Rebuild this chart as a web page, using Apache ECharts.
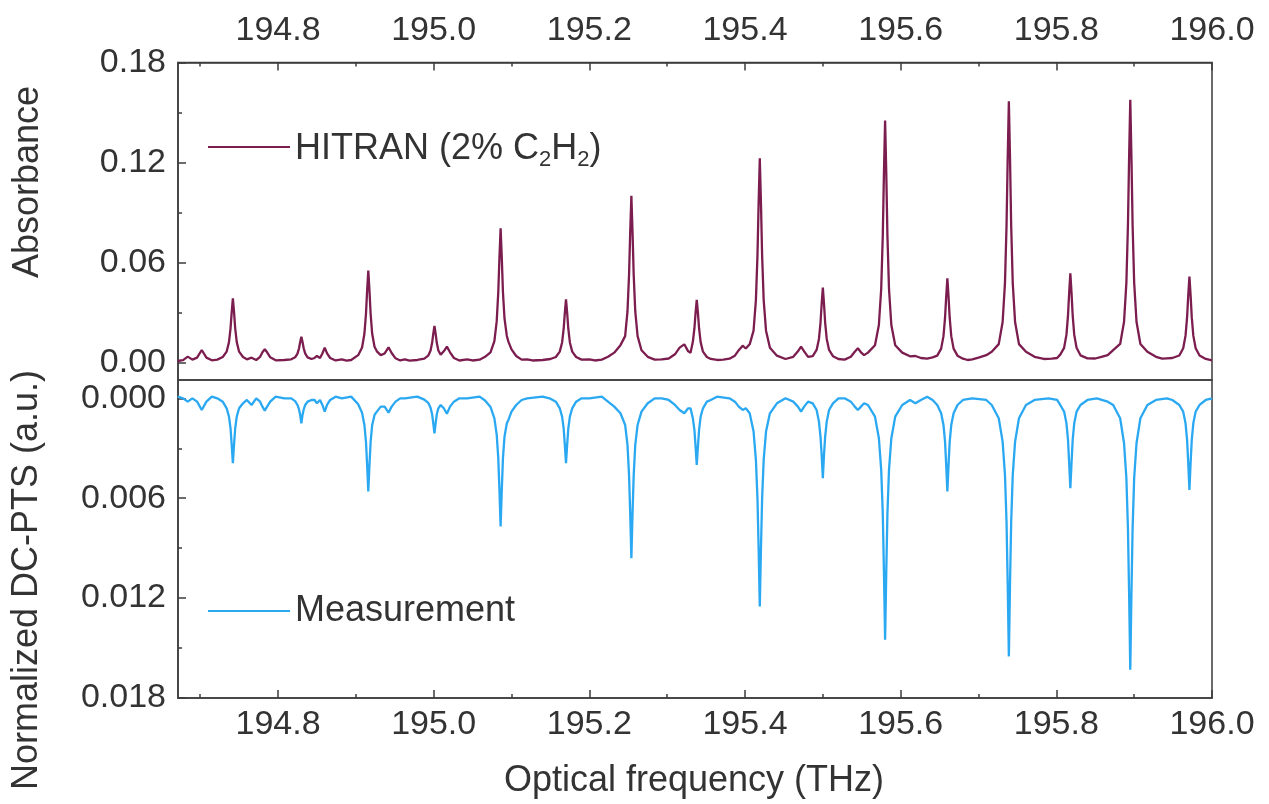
<!DOCTYPE html>
<html>
<head>
<meta charset="utf-8">
<script src="https://cdn.jsdelivr.net/npm/echarts@6/dist/echarts.min.js"></script>
<style>
html,body{margin:0;padding:0;background:#fff;}
#chart{width:1269px;height:804px;}
</style>
</head>
<body>
<div id="chart"></div>
<script>
// ---- data ----
const freqTicks = [194.8, 195.0, 195.2, 195.4, 195.6, 195.8, 196.0];
const freqMinorTicks = [194.7, 194.9, 195.1, 195.3, 195.5, 195.7, 195.9];
const absTicks = [0, 0.06, 0.12, 0.18];
const absMinorTicks = [0.03, 0.09, 0.15];
const ptsTicks = [0, 0.006, 0.012, 0.018];
const ptsMinorTicks = [0.003, 0.009, 0.015];

// HITRAN absorbance: [frequency THz, absorbance]
const hitran = [
[194.671,0.001],[194.678,0.0015],[194.684,0.0036],[194.690,0.0018],[194.696,0.003],[194.702,0.0076],[194.708,0.003],[194.715,0.0014],[194.722,0.0018],
[194.729,0.0034],[194.734,0.0066],[194.737,0.0123],[194.739,0.0206],[194.7405,0.0303],[194.742,0.0386],[194.7435,0.0303],[194.745,0.0206],[194.747,0.0123],[194.750,0.0066],[194.755,0.0034],
[194.760,0.002],[194.766,0.003],[194.772,0.0016],[194.777,0.0035],[194.780,0.0062],[194.783,0.008],[194.786,0.0062],[194.790,0.0032],[194.797,0.0014],[194.808,0.0016],
[194.817,0.002],[194.822,0.0032],[194.825,0.0054],[194.827,0.0086],[194.8285,0.0124],[194.830,0.0156],[194.8315,0.0124],[194.833,0.0086],[194.835,0.0054],[194.838,0.0032],[194.843,0.0022],
[194.847,0.0028],[194.850,0.004],[194.854,0.0028],[194.857,0.0055],[194.860,0.009],[194.863,0.0056],[194.867,0.0028],[194.874,0.0013],[194.882,0.002],[194.888,0.0012],[194.894,0.0016],
[194.903,0.0045],[194.908,0.0091],[194.911,0.0173],[194.913,0.0292],[194.9145,0.0433],[194.916,0.0552],[194.9175,0.0433],[194.919,0.0292],[194.921,0.0173],[194.924,0.0095],[194.927,0.0068],
[194.932,0.0045],[194.937,0.0055],[194.942,0.0092],[194.946,0.0058],[194.951,0.0026],[194.957,0.0013],[194.963,0.002],[194.969,0.0012],[194.979,0.0016],
[194.988,0.0024],[194.993,0.0042],[194.996,0.0073],[194.998,0.0119],[194.9995,0.0174],[195.001,0.022],[195.0025,0.0174],[195.004,0.0119],[195.006,0.0073],[195.009,0.0048],
[195.013,0.0068],[195.017,0.0096],[195.021,0.0062],[195.026,0.0028],[195.033,0.0013],[195.043,0.002],[195.050,0.0013],[195.059,0.0018],
[195.066,0.0035],[195.073,0.0062],[195.078,0.0129],[195.081,0.0249],[195.083,0.0424],[195.0845,0.0631],[195.086,0.0806],[195.0875,0.0631],[195.089,0.0424],[195.091,0.0265],[195.094,0.016],[195.096,0.0126],
[195.100,0.008],[195.106,0.004],[195.113,0.0018],[195.120,0.002],[195.127,0.0013],[195.140,0.0016],
[195.150,0.0022],[195.157,0.0034],[195.162,0.0066],[195.165,0.0121],[195.167,0.0202],[195.1685,0.0299],[195.170,0.038],[195.1715,0.0299],[195.173,0.0202],[195.175,0.0121],[195.178,0.0066],[195.183,0.0034],
[195.190,0.0018],[195.200,0.002],[195.207,0.0013],[195.216,0.0018],
[195.224,0.0035],[195.232,0.006],[195.240,0.0105],[195.246,0.0159],[195.249,0.0307],[195.251,0.0525],[195.2525,0.0782],[195.254,0.100],[195.2555,0.0782],[195.257,0.0525],[195.259,0.0307],[195.262,0.0159],[195.267,0.0074],
[195.275,0.0035],[195.284,0.0018],[195.293,0.002],[195.302,0.0025],[195.310,0.005],[195.316,0.009],[195.322,0.011],
[195.327,0.0068],[195.330,0.006],[195.333,0.0125],[195.335,0.0205],[195.3365,0.030],[195.338,0.0376],[195.3395,0.030],[195.341,0.0205],[195.343,0.0123],[195.346,0.0066],[195.351,0.0034],
[195.356,0.0022],[195.364,0.0016],[195.372,0.0018],[195.380,0.0024],[195.387,0.0042],[195.392,0.0075],[195.397,0.0102],
[195.401,0.0085],[195.406,0.011],[195.411,0.0192],[195.414,0.0375],[195.416,0.0642],[195.4175,0.0958],[195.419,0.1226],[195.4205,0.0958],[195.422,0.0642],[195.424,0.0375],[195.427,0.0192],[195.432,0.0089],
[195.441,0.0042],[195.452,0.0022],[195.462,0.0035],[195.468,0.0068],[195.472,0.0096],[195.476,0.0068],
[195.481,0.0035],[195.487,0.0039],[195.492,0.0076],[195.495,0.0142],[195.497,0.0239],[195.4985,0.0353],[195.500,0.045],[195.5015,0.0353],[195.503,0.0239],[195.505,0.0142],[195.508,0.0076],[195.513,0.0039],
[195.520,0.0022],[195.528,0.0018],[195.536,0.0035],[195.541,0.0065],[195.545,0.0086],
[195.549,0.0062],[195.553,0.0045],[195.558,0.006],[195.567,0.0104],[195.572,0.0226],[195.575,0.0443],[195.577,0.076],[195.5785,0.1135],[195.580,0.1452],[195.5815,0.1135],[195.583,0.076],[195.585,0.0443],[195.588,0.0226],[195.593,0.0104],
[195.602,0.006],[195.612,0.0038],[195.619,0.004],[195.626,0.0028],[195.634,0.0024],
[195.641,0.0032],[195.647,0.0042],[195.652,0.0084],[195.655,0.0159],[195.657,0.0268],[195.6585,0.0397],[195.660,0.0506],[195.6615,0.0397],[195.663,0.0268],[195.665,0.0159],[195.668,0.0084],[195.673,0.0042],
[195.680,0.0024],[195.686,0.0016],[195.692,0.002],[195.700,0.003],[195.710,0.0045],
[195.717,0.0065],[195.726,0.0111],[195.731,0.0244],[195.734,0.0477],[195.736,0.082],[195.7375,0.1224],[195.739,0.1567],[195.7405,0.1224],[195.742,0.082],[195.744,0.0477],[195.747,0.0244],[195.752,0.0111],
[195.761,0.0065],[195.772,0.0035],[195.784,0.0022],[195.794,0.0024],[195.801,0.0028],
[195.805,0.0048],[195.810,0.0089],[195.813,0.0168],[195.815,0.0284],[195.8165,0.042],[195.818,0.0536],[195.8195,0.042],[195.821,0.0284],[195.823,0.0168],[195.826,0.0089],[195.831,0.0044],
[195.840,0.0026],[195.850,0.0025],[195.858,0.0035],[195.866,0.0045],[195.873,0.0075],
[195.882,0.0112],[195.887,0.0245],[195.890,0.048],[195.892,0.0824],[195.8935,0.1231],[195.895,0.1576],[195.8965,0.1231],[195.898,0.0824],[195.900,0.048],[195.903,0.0245],[195.908,0.0112],
[195.917,0.0065],[195.928,0.0035],[195.936,0.0024],[195.942,0.0026],[195.949,0.0028],
[195.958,0.0043],[195.963,0.0086],[195.966,0.0162],[195.968,0.0273],[195.9695,0.0405],[195.971,0.0516],[195.9725,0.0405],[195.974,0.0273],[195.976,0.0162],[195.979,0.0086],[195.984,0.0043],
[195.992,0.0022],[196.000,0.0014]
];

// Measurement (normalized DC-PTS, plotted downward): [frequency THz, value a.u.]
const measurement = [
[194.671,-0.0001],[194.678,0.0],[194.684,0.0002],[194.690,0.0],[194.696,0.0002],[194.702,0.0007],[194.708,0.0002],[194.715,-0.0001],[194.722,0.0],
[194.729,0.0002],[194.734,0.0006],[194.737,0.0011],[194.739,0.0018],[194.7405,0.0028],[194.742,0.0039],[194.7435,0.0028],[194.745,0.0018],[194.747,0.0011],[194.750,0.0006],[194.755,0.0003],
[194.760,0.0001],[194.766,0.0004],[194.772,0.0],[194.777,0.0002],[194.780,0.0005],[194.783,0.00074],[194.786,0.0005],[194.790,0.0002],[194.797,-0.0001],[194.808,0.0],
[194.817,0.0],[194.822,0.00017],[194.825,0.0004],[194.827,0.00067],[194.8285,0.001],[194.830,0.0015],[194.8315,0.001],[194.833,0.00067],[194.835,0.0004],[194.838,0.0002],[194.843,0.0001],
[194.847,0.0001],[194.850,0.0003],[194.854,0.0001],[194.857,0.0004],[194.860,0.0008],[194.863,0.0004],[194.867,0.0001],[194.874,-0.0001],[194.882,0.0],[194.894,-0.0001],
[194.903,0.00036],[194.908,0.00087],[194.911,0.0016],[194.913,0.0026],[194.9145,0.004],[194.916,0.0056],[194.9175,0.004],[194.919,0.0026],[194.921,0.0016],[194.924,0.001],[194.927,0.0008],
[194.932,0.0005],[194.937,0.0005],[194.942,0.00086],[194.946,0.0005],[194.951,0.0002],[194.957,0.0],[194.963,0.0],[194.979,-0.0001],
[194.988,0.00008],[194.993,0.00027],[194.996,0.00056],[194.998,0.00096],[194.9995,0.0015],[195.001,0.0021],[195.0025,0.0015],[195.004,0.00096],[195.006,0.0006],[195.009,0.0004],
[195.013,0.0006],[195.017,0.00093],[195.021,0.0005],[195.026,0.0002],[195.033,0.0],[195.043,0.0],[195.059,-0.0001],
[195.066,0.00013],[195.073,0.00052],[195.078,0.0012],[195.081,0.0022],[195.083,0.0036],[195.0845,0.0055],[195.086,0.0077],[195.0875,0.0055],[195.089,0.0036],[195.091,0.0023],[195.094,0.0015],[195.096,0.0013],
[195.100,0.0008],[195.106,0.0004],[195.113,0.0001],[195.120,0.0],[195.140,-0.0001],
[195.150,0.00002],[195.157,0.0002],[195.162,0.0006],[195.165,0.0011],[195.167,0.0018],[195.1685,0.0028],[195.170,0.0039],[195.1715,0.0028],[195.173,0.0018],[195.175,0.0011],[195.178,0.0006],[195.183,0.0002],
[195.190,0.0],[195.200,0.0],[195.216,-0.0001],
[195.224,0.0002],[195.232,0.0005],[195.240,0.0009],[195.246,0.0016],[195.249,0.0028],[195.251,0.0046],[195.2525,0.0069],[195.254,0.0096],[195.2555,0.0069],[195.257,0.0046],[195.259,0.0028],[195.262,0.0016],[195.267,0.0008],
[195.275,0.0003],[195.284,0.0],[195.293,0.0],[195.302,0.0001],[195.310,0.0004],[195.316,0.0007],[195.322,0.0009],
[195.327,0.0006],[195.330,0.0006],[195.333,0.0012],[195.335,0.0019],[195.3365,0.0029],[195.338,0.004],[195.3395,0.0029],[195.341,0.0019],[195.343,0.0011],[195.346,0.0006],[195.351,0.0002],
[195.356,0.0001],[195.364,-0.0001],[195.380,0.0],[195.387,0.0002],[195.392,0.0005],[195.397,0.0007],
[195.401,0.0006],[195.406,0.0009],[195.411,0.002],[195.414,0.0037],[195.416,0.006],[195.4175,0.009],[195.419,0.0125],[195.4205,0.009],[195.422,0.006],[195.424,0.0037],[195.427,0.002],[195.432,0.0009],
[195.441,0.0003],[195.452,0.0],[195.462,0.0002],[195.468,0.0005],[195.472,0.0008],[195.476,0.0005],
[195.481,0.0002],[195.487,0.0003],[195.492,0.0007],[195.495,0.0014],[195.497,0.0023],[195.4985,0.0034],[195.500,0.0048],[195.5015,0.0034],[195.503,0.0023],[195.505,0.0014],[195.508,0.0007],[195.513,0.0003],
[195.520,0.0],[195.528,0.0],[195.536,0.0002],[195.541,0.0005],[195.545,0.0007],
[195.549,0.0005],[195.553,0.0003],[195.558,0.0004],[195.567,0.0011],[195.572,0.0024],[195.575,0.0043],[195.577,0.0069],[195.5785,0.0104],[195.580,0.0145],[195.5815,0.0104],[195.583,0.0069],[195.585,0.0043],[195.588,0.0024],[195.593,0.0011],
[195.602,0.0004],[195.612,0.0001],[195.619,0.0003],[195.626,0.0001],[195.634,-0.0001],
[195.641,0.0001],[195.647,0.0004],[195.652,0.0009],[195.655,0.0016],[195.657,0.0026],[195.6585,0.004],[195.660,0.0056],[195.6615,0.004],[195.663,0.0026],[195.665,0.0016],[195.668,0.0009],[195.673,0.0004],
[195.680,0.0001],[195.692,0.0],[195.710,0.0001],
[195.717,0.0004],[195.726,0.0012],[195.731,0.0026],[195.734,0.0046],[195.736,0.0074],[195.7375,0.0111],[195.739,0.0155],[195.7405,0.0111],[195.742,0.0074],[195.744,0.0046],[195.747,0.0026],[195.752,0.0012],
[195.761,0.0004],[195.772,0.0001],[195.790,0.0],[195.801,0.0001],
[195.805,0.0004],[195.810,0.0008],[195.813,0.0015],[195.815,0.0025],[195.8165,0.0039],[195.818,0.0054],[195.8195,0.0039],[195.821,0.0025],[195.823,0.0015],[195.826,0.0008],[195.831,0.0004],
[195.840,0.0001],[195.852,0.0],[195.866,0.0002],[195.873,0.0004],
[195.882,0.0012],[195.887,0.0027],[195.890,0.0048],[195.892,0.0078],[195.8935,0.0117],[195.895,0.0163],[195.8965,0.0117],[195.898,0.0078],[195.900,0.0048],[195.903,0.0027],[195.908,0.0012],
[195.917,0.0004],[195.928,0.0001],[195.942,0.0],[195.949,0.0001],
[195.958,0.0004],[195.963,0.0008],[195.966,0.0015],[195.968,0.0025],[195.9695,0.0039],[195.971,0.0055],[195.9725,0.0039],[195.974,0.0025],[195.976,0.0015],[195.979,0.0008],[195.984,0.0004],
[195.992,0.0001],[196.000,0.0]
];

// ---- chart ----
const FONT = "'Liberation Sans', Arial, Helvetica, sans-serif";
const TXT = '#333333';
const AX = '#3c3c3c';
const tickFont = 34;
const titleFont = 36;
const HIT_COLOR = '#7b1d4e';
const MEAS_COLOR = '#2aa8f2';

const chart = echarts.init(document.getElementById('chart'), null, {renderer: 'canvas'});

function xAxisMajor(grid, pos, margin) {
  return {
    type: 'value', gridIndex: grid, position: pos, min: 194.6715, max: 196.0,
    axisLine: {show: true, onZero: false, lineStyle: {color: AX, width: 1.5}},
    axisTick: {show: true, inside: true, length: 8, customValues: freqTicks, lineStyle: {color: AX, width: 1.5}},
    axisLabel: {show: true, customValues: freqTicks, margin: margin, fontSize: tickFont, fontFamily: FONT, color: TXT,
                formatter: v => v.toFixed(1)},
    splitLine: {show: false}
  };
}
function xAxisMinor(grid, pos) {
  return {
    type: 'value', gridIndex: grid, position: pos, min: 194.6715, max: 196.0,
    axisLine: {show: false, onZero: false},
    axisTick: {show: true, inside: true, length: 4, customValues: freqMinorTicks, lineStyle: {color: AX, width: 1.5}},
    axisLabel: {show: false}, splitLine: {show: false}
  };
}
function yAxisMajor(grid, min, max, ticks, digits, inverse) {
  return {
    type: 'value', gridIndex: grid, position: 'left', min: min, max: max, inverse: inverse,
    axisLine: {show: true, onZero: false, lineStyle: {color: AX, width: 1.5}},
    axisTick: {show: true, inside: true, length: 8, customValues: ticks, lineStyle: {color: AX, width: 1.5}},
    axisLabel: {show: true, customValues: ticks, margin: 12, fontSize: tickFont, fontFamily: FONT, color: TXT,
                formatter: v => Number(v).toFixed(digits)},
    splitLine: {show: false}
  };
}
function yAxisMinor(grid, min, max, ticks, inverse) {
  return {
    type: 'value', gridIndex: grid, position: 'left', min: min, max: max, inverse: inverse,
    axisLine: {show: false, onZero: false},
    axisTick: {show: true, inside: true, length: 4, customValues: ticks, lineStyle: {color: AX, width: 1.5}},
    axisLabel: {show: false}, splitLine: {show: false}
  };
}

const option = {
  animation: false,
  backgroundColor: '#ffffff',
  grid: [
    {left: 178, right: 57, top: 62.5, height: 317.5, show: true, borderColor: AX, borderWidth: 1.5, containLabel: false, outerBoundsMode: 'none'},
    {left: 178, right: 57, top: 380, height: 318, show: true, borderColor: AX, borderWidth: 1.5, containLabel: false, outerBoundsMode: 'none'}
  ],
  xAxis: [
    xAxisMajor(0, 'top', 15), xAxisMinor(0, 'top'),
    xAxisMajor(1, 'bottom', 10), xAxisMinor(1, 'bottom')
  ],
  yAxis: [
    yAxisMajor(0, -0.0104, 0.18, absTicks, 2, false), yAxisMinor(0, -0.0104, 0.18, absMinorTicks, false),
    yAxisMajor(1, -0.0011, 0.018, ptsTicks, 3, true), yAxisMinor(1, -0.0011, 0.018, ptsMinorTicks, true)
  ],
  legend: [
    {
      data: [{name: 'HITRAN', icon: 'rect'}], left: 203, top: 126, orient: 'horizontal', selectedMode: false,
      itemWidth: 82, itemHeight: 2.2, itemStyle: {color: HIT_COLOR, borderWidth: 0},
      formatter: () => '{t|HITRAN (2% C}{s|2}{u|H}{s|2}{u|)}',
      textStyle: {
        color: TXT, fontFamily: FONT, fontSize: titleFont,
        rich: {
          t: {fontSize: titleFont, fontFamily: FONT, color: TXT, lineHeight: 40, verticalAlign: 'bottom'},
          u: {fontSize: titleFont, fontFamily: FONT, color: TXT, lineHeight: 40, verticalAlign: 'bottom'},
          s: {fontSize: 22, fontFamily: FONT, color: TXT, lineHeight: 40, verticalAlign: 'bottom', padding: [0, 0, -4, 0]}
        }
      }
    },
    {
      data: [{name: 'Measurement', icon: 'rect'}], left: 203, top: 588, orient: 'horizontal', selectedMode: false,
      itemWidth: 82, itemHeight: 2.2, itemStyle: {color: MEAS_COLOR, borderWidth: 0},
      formatter: () => '{t|Measurement}',
      textStyle: {
        color: TXT, fontFamily: FONT, fontSize: titleFont,
        rich: {
          t: {fontSize: titleFont, fontFamily: FONT, color: TXT, lineHeight: 40}
        }
      }
    }
  ],
  graphic: [
    {type: 'text', x: 28, y: 182, rotation: Math.PI / 2,
     style: {text: 'Absorbance', font: titleFont + 'px ' + FONT, fill: TXT, align: 'center', verticalAlign: 'middle', textAlign: 'center', textVerticalAlign: 'middle'}},
    {type: 'text', x: 27, y: 580, rotation: Math.PI / 2,
     style: {text: 'Normalized DC-PTS (a.u.)', font: titleFont + 'px ' + FONT, fill: TXT, align: 'center', verticalAlign: 'middle', textAlign: 'center', textVerticalAlign: 'middle'}},
    {type: 'text', x: 694, y: 781,
     style: {text: 'Optical frequency (THz)', font: titleFont + 'px ' + FONT, fill: TXT, align: 'center', verticalAlign: 'middle', textAlign: 'center', textVerticalAlign: 'middle'}}
  ],
  series: [
    {name: 'HITRAN', type: 'line', xAxisIndex: 0, yAxisIndex: 0, data: hitran,
     symbol: 'none', showSymbol: false, smooth: false, sampling: null,
     lineStyle: {color: HIT_COLOR, width: 2.3}, itemStyle: {color: HIT_COLOR}},
    {name: 'Measurement', type: 'line', xAxisIndex: 2, yAxisIndex: 2, data: measurement,
     symbol: 'none', showSymbol: false, smooth: false, sampling: null,
     lineStyle: {color: MEAS_COLOR, width: 2.3}, itemStyle: {color: MEAS_COLOR}}
  ]
};
chart.setOption(option);
</script>
</body>
</html>
